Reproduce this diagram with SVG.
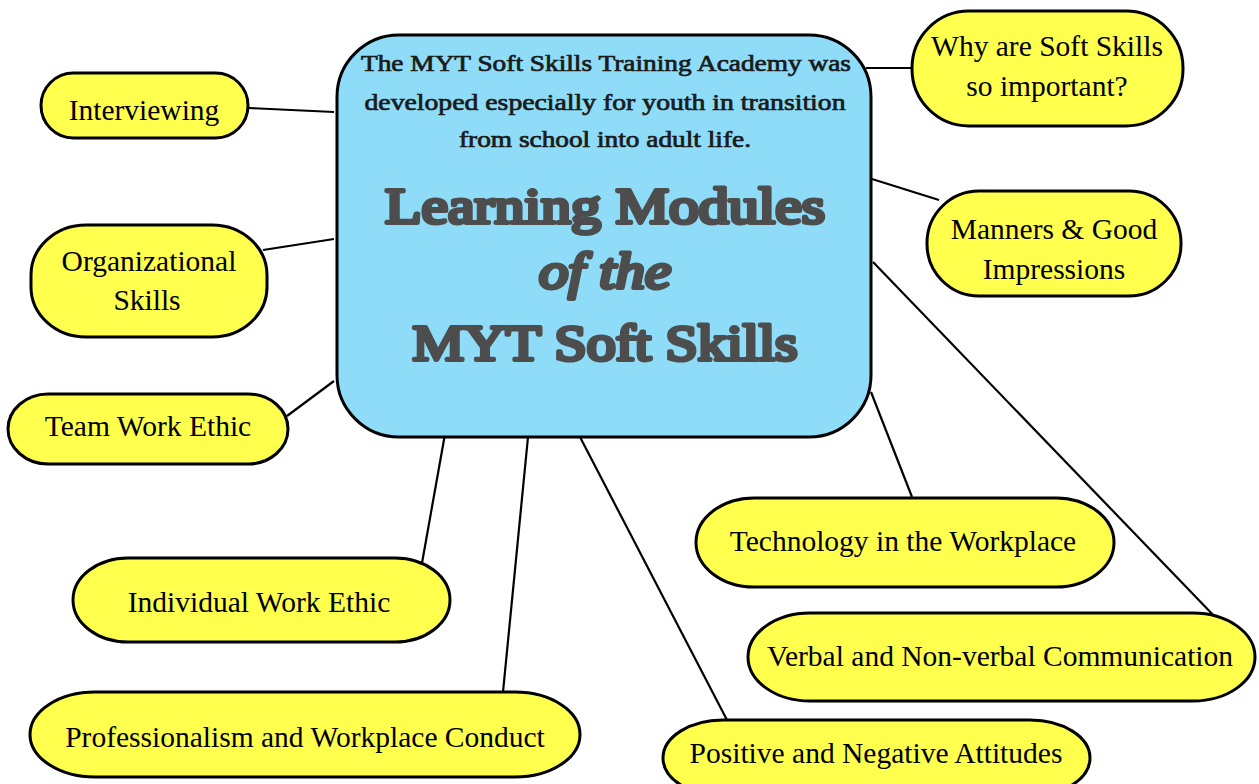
<svg xmlns="http://www.w3.org/2000/svg" width="1259" height="784" viewBox="0 0 1259 784">
<style>
.node{fill:#ffff4d;stroke:#000;stroke-width:3}
.center{fill:#8edcf7;stroke:#000;stroke-width:3}
.lbl{font-family:"Liberation Serif","Times New Roman",serif;font-size:29.5px;fill:#000;text-anchor:middle}
.para{font-family:"Liberation Serif","Times New Roman",serif;font-size:23px;font-weight:normal;fill:#1a1a1a;stroke:#1a1a1a;stroke-width:0.7;text-anchor:middle}
.title{font-family:"Liberation Serif","Times New Roman",serif;font-size:50px;font-weight:normal;fill:#4d4d4d;stroke:#4d4d4d;stroke-width:4;stroke-linejoin:round;text-anchor:middle}
.conn line{stroke:#000;stroke-width:2.2}
</style>
<rect width="1259" height="784" fill="#fff"/>
<g id="connectors" class="conn">
<line x1="249" y1="108" x2="334" y2="112"/>
<line x1="263" y1="250" x2="334" y2="239"/>
<line x1="287" y1="416" x2="334" y2="381"/>
<line x1="422" y1="563" x2="445" y2="434"/>
<line x1="503" y1="692" x2="528" y2="437"/>
<line x1="727" y1="720" x2="580" y2="437"/>
<line x1="912" y1="497" x2="871" y2="392"/>
<line x1="1218" y1="620" x2="873" y2="262"/>
<line x1="939" y1="200" x2="872" y2="179"/>
<line x1="912" y1="68" x2="866" y2="68"/>
</g>
<g id="center">
<rect class="center" x="337" y="35" width="534" height="402" rx="62"/>
<text class="para" x="606" y="71" textLength="490" lengthAdjust="spacingAndGlyphs">The MYT Soft Skills Training Academy was</text>
<text class="para" x="605" y="110" textLength="481" lengthAdjust="spacingAndGlyphs">developed especially for youth in transition</text>
<text class="para" x="605" y="147" textLength="292" lengthAdjust="spacingAndGlyphs">from school into adult life.</text>
<text class="title" x="605" y="223" textLength="440" lengthAdjust="spacingAndGlyphs">Learning Modules</text>
<text class="title" x="605" y="288" font-style="italic" font-size="54" textLength="132" lengthAdjust="spacingAndGlyphs">of the</text>
<text class="title" x="605" y="360" textLength="385" lengthAdjust="spacingAndGlyphs">MYT Soft Skills</text>
</g>
<g id="interviewing">
<rect class="node" x="41" y="73" width="207" height="65" rx="32.5"/>
<text class="lbl" x="144" y="120">Interviewing</text>
</g>
<g id="organizational">
<rect class="node" x="31" y="225" width="236" height="112" rx="55" ry="50"/>
<text class="lbl" x="149" y="271">Organizational</text>
<text class="lbl" x="147" y="310">Skills</text>
</g>
<g id="teamwork">
<rect class="node" x="8" y="394" width="280" height="70" rx="40" ry="35"/>
<text class="lbl" x="148" y="436">Team Work Ethic</text>
</g>
<g id="individual">
<rect class="node" x="73" y="558" width="377" height="84" rx="55" ry="42"/>
<text class="lbl" x="259" y="612">Individual Work Ethic</text>
</g>
<g id="professionalism">
<rect class="node" x="30" y="692" width="550" height="85" rx="65" ry="42.5"/>
<text class="lbl" x="305" y="747">Professionalism and Workplace Conduct</text>
</g>
<g id="positive">
<rect class="node" x="663" y="720" width="427" height="76" rx="60" ry="38"/>
<text class="lbl" x="876" y="763">Positive and Negative Attitudes</text>
</g>
<g id="technology">
<rect class="node" x="696" y="498" width="418" height="89" rx="58" ry="44.5"/>
<text class="lbl" x="903" y="551">Technology in the Workplace</text>
</g>
<g id="verbal">
<rect class="node" x="748" y="613" width="507" height="88" rx="62" ry="44"/>
<text class="lbl" x="1000" y="666">Verbal and Non-verbal Communication</text>
</g>
<g id="manners">
<rect class="node" x="927" y="191" width="254" height="105" rx="52" ry="52"/>
<text class="lbl" x="1054" y="239">Manners &amp; Good</text>
<text class="lbl" x="1054" y="279">Impressions</text>
</g>
<g id="why">
<rect class="node" x="912" y="11" width="271" height="115" rx="57" ry="57"/>
<text class="lbl" x="1047" y="56">Why are Soft Skills</text>
<text class="lbl" x="1047" y="96">so important?</text>
</g>
</svg>
